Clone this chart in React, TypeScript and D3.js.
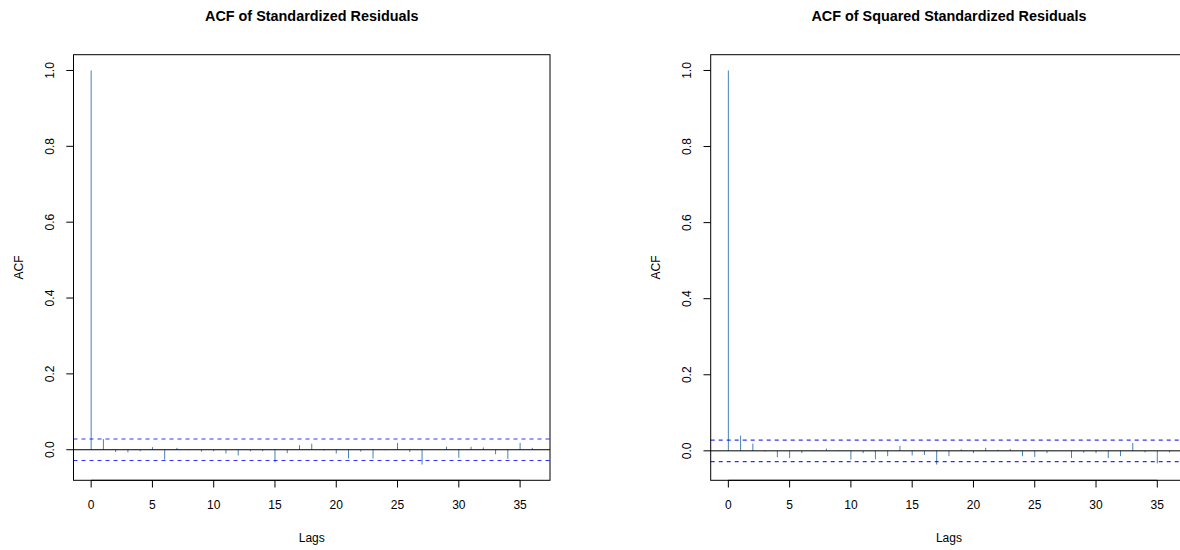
import React from "react";
import * as d3 from "d3";

const lags = d3.range(0, 37);
const acfStd = [1.0, 0.028, -0.006, -0.007, -0.004, 0.007, -0.026, 0.005, -0.001, -0.005, -0.004, -0.01, -0.015, -0.004, -0.004, -0.033, -0.009, 0.012, 0.016, -0.002, -0.01, -0.023, -0.005, -0.023, -0.001, 0.018, -0.006, -0.039, 0.001, 0.008, -0.021, 0.008, 0.006, -0.012, -0.024, 0.018, 0.005];
const acfSq = [1.0, 0.04, 0.019, -0.002, -0.017, -0.019, -0.006, 0.001, 0.006, 0.001, -0.023, -0.006, -0.022, -0.014, 0.013, -0.012, -0.011, -0.036, -0.014, 0.004, -0.006, 0.008, 0.003, 0.005, -0.014, -0.016, -0.006, 0.0, -0.019, -0.005, -0.006, -0.019, -0.014, 0.021, -0.004, -0.033, -0.004];
const ciStd = 0.0283;
const ciSq = 0.0283;
const titles = ["ACF of Standardized Residuals", "ACF of Squared Standardized Residuals"];
const xTicks = [0, 5, 10, 15, 20, 25, 30, 35];
const yTicks = [0, 0.2, 0.4, 0.6, 0.8, 1.0];

const FONT = "Liberation Sans, Arial, Helvetica, sans-serif";

function Panel({ x0, values, ci, title }: { x0: number; values: number[]; ci: number; title: string }) {
  const left = x0, right = x0 + 476.5, top = 54.7, bottom = 480.3;
  const xr = [lags[0], lags[lags.length - 1]];
  const xpad = (xr[1] - xr[0]) * 0.04;
  const x = d3.scaleLinear().domain([xr[0] - xpad, xr[1] + xpad]).range([left, right]);
  const lo = Math.min(d3.min(values)!, -ci);
  const hi = Math.max(d3.max(values)!, ci);
  const ypad = (hi - lo) * 0.04;
  const y = d3.scaleLinear().domain([lo - ypad, hi + ypad]).range([bottom, top]);
  const cx = (left + right) / 2;
  const cy = (top + bottom) / 2;
  return (
    <g>
      <text x={cx} y={21} textAnchor="middle" fontFamily={FONT} fontWeight="bold" fontSize={14.4}>{title}</text>
      {values.map((v, i) => (
        <line key={i} x1={x(lags[i])} x2={x(lags[i])} y1={y(0)} y2={y(v)} stroke="steelblue" strokeWidth={1} />
      ))}
      <line x1={left} x2={right} y1={y(0)} y2={y(0)} stroke="black" strokeWidth={1} />
      <line x1={left} x2={right} y1={y(ci)} y2={y(ci)} stroke="blue" strokeWidth={1.2} strokeDasharray="4,4" opacity={0.8} />
      <line x1={left} x2={right} y1={y(-ci)} y2={y(-ci)} stroke="blue" strokeWidth={1.2} strokeDasharray="4,4" opacity={0.8} />
      <rect x={left} y={top} width={right - left} height={bottom - top} fill="none" stroke="black" strokeWidth={1} />
      {xTicks.map((t) => (
        <g key={t}>
          <line x1={x(t)} x2={x(t)} y1={bottom} y2={bottom + 7.2} stroke="black" />
          <text x={x(t)} y={509} textAnchor="middle" fontFamily={FONT} fontSize={12}>{t}</text>
        </g>
      ))}
      <line x1={x(0)} x2={x(35)} y1={bottom} y2={bottom} stroke="black" />
      {yTicks.map((t) => (
        <g key={t}>
          <line x1={left - 7.2} x2={left} y1={y(t)} y2={y(t)} stroke="black" />
          <text transform={`translate(${left - 19.5},${y(t)}) rotate(-90)`} textAnchor="middle" fontFamily={FONT} fontSize={12}>{d3.format(".1f")(t)}</text>
        </g>
      ))}
      <text x={cx} y={542} textAnchor="middle" fontFamily={FONT} fontSize={12}>Lags</text>
      <text transform={`translate(${left - 51},${cy}) rotate(-90)`} textAnchor="middle" fontFamily={FONT} fontSize={12}>ACF</text>
    </g>
  );
}

export default function App() {
  return (
    <svg width={1180} height={550} style={{ position: "absolute", left: 0, top: 0, background: "white" }}>
      <rect width={1180} height={550} fill="white" />
      <Panel x0={73.5} values={acfStd} ci={ciStd} title={titles[0]} />
      <Panel x0={710.7} values={acfSq} ci={ciSq} title={titles[1]} />
    </svg>
  );
}
